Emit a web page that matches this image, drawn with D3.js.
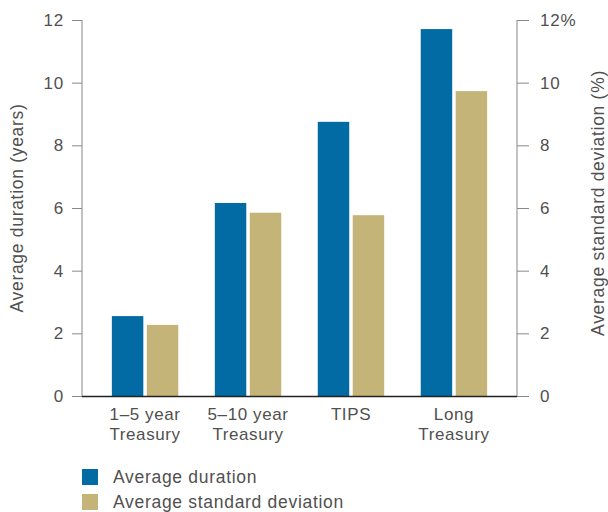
<!DOCTYPE html>
<html><head><meta charset="utf-8">
<script src="https://cdn.jsdelivr.net/npm/d3@7"></script>
<style>body{margin:0;background:#fff}text{font-family:"Liberation Sans",Arial,sans-serif}</style>
</head><body><svg id="c" width="608" height="512"></svg>
<script>
const categories = [["1–5 year","Treasury"],["5–10 year","Treasury"],["TIPS"],["Long","Treasury"]];
const durationValues = [2.55, 6.16, 8.75, 11.71];
const stdDevValues = [2.27, 5.85, 5.77, 9.73];
const leftTicks = [0,2,4,6,8,10,12];
const rightTickLabels = ["0","2","4","6","8","10","12%"];
const seriesNames = ["Average duration","Average standard deviation"];
const colors = ["#036ba4","#c5b477"];
const FONT = "Liberation Sans, Arial, sans-serif";

const svg = d3.select("#c");
const x0 = 82, x1 = 517, yTop = 20, yBot = 396;
const keys = categories.map((c,i)=>i);
const x = d3.scaleBand().domain(keys).range([x0, x1]).paddingInner(0.355).paddingOuter(0.29);
const y = d3.scaleLinear().domain([0,12]).range([yBot, yTop]);
const yR = d3.scaleLinear().domain([0,12]).range([yBot, yTop]);
const xs = d3.scaleBand().domain([0,1]).range([0, x.bandwidth()]).paddingInner(0.1);

const series = [durationValues, stdDevValues];
series.forEach((vals, s) => {
  svg.append("g").selectAll("rect").data(vals).join("rect")
    .attr("x", (d,i)=> x(i) + xs(s))
    .attr("width", xs.bandwidth())
    .attr("y", d => (s===0? y(d) : yR(d)))
    .attr("height", d => yBot - (s===0? y(d) : yR(d)))
    .attr("fill", colors[s]);
});

const axisColor = "#888", textColor = "#505050";
const gl = svg.append("g").attr("transform", `translate(${x0},0)`)
  .call(d3.axisLeft(y).tickValues(leftTicks).tickSize(10).tickPadding(8).tickFormat(d3.format("d")));
gl.select(".domain").attr("stroke", axisColor).attr("d", `M0,${yTop}V${yBot}`);
gl.selectAll(".tick line").attr("stroke", axisColor);
gl.selectAll(".tick text").attr("fill", textColor).style("font-size","17px").style("letter-spacing","0.8px").attr("font-family",FONT);

const gr = svg.append("g").attr("transform", `translate(${x1},0)`)
  .call(d3.axisRight(yR).tickValues(leftTicks).tickSize(12).tickPadding(11).tickFormat((d,i)=>rightTickLabels[i]));
gr.select(".domain").attr("stroke", axisColor).attr("d", `M0,${yTop}V${yBot}`);
gr.selectAll(".tick line").attr("stroke", axisColor);
gr.selectAll(".tick text").attr("fill", textColor).style("font-size","17px").style("letter-spacing","0.8px").attr("font-family",FONT);

svg.append("line").attr("x1", x0).attr("x2", x1).attr("y1", yBot+0.5).attr("y2", yBot+0.5)
  .attr("stroke", "#222").attr("stroke-width", 1.5);

const cl = svg.append("g").selectAll("text").data(categories).join("text")
  .attr("text-anchor","middle").attr("fill", textColor).style("font-size","17px").style("letter-spacing","0.6px")
  .attr("transform", (d,i)=>`translate(${x(i)+x.bandwidth()/2},420)`);
cl.selectAll("tspan").data(d=>d).join("tspan").attr("x",0).attr("dy",(d,j)=> j===0?0:20).text(d=>d);

svg.append("text").attr("transform", `translate(23,${(yTop+yBot)/2}) rotate(-90)`)
  .attr("text-anchor","middle").attr("fill", textColor).style("font-size","17.5px").style("letter-spacing","0.7px").text("Average duration (years)");
svg.append("text").attr("transform", `translate(604,${(yTop+yBot)/2 - 5}) rotate(-90)`)
  .attr("text-anchor","middle").attr("fill", textColor).style("font-size","17.5px").style("letter-spacing","0.7px").text("Average standard deviation (%)");

const lg = svg.append("g").selectAll("g").data(seriesNames).join("g")
  .attr("transform", (d,i)=>`translate(82,${469 + i*25})`);
lg.append("rect").attr("width",16).attr("height",16).attr("fill",(d,i)=>colors[i]);
lg.append("text").attr("x",31).attr("y",14).attr("fill", textColor).style("font-size","17.5px").style("letter-spacing","0.7px").text(d=>d);
</script></body></html>
